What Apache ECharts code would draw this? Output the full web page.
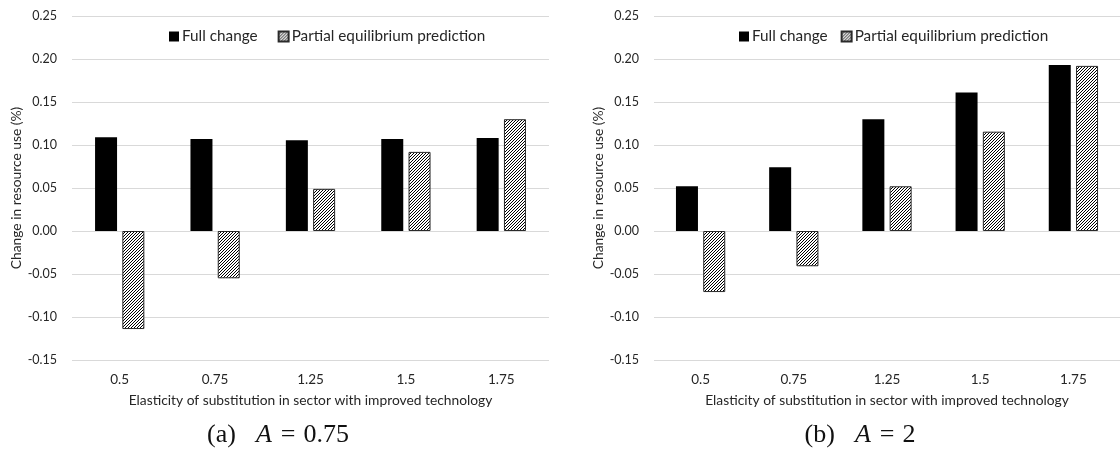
<!DOCTYPE html>
<html>
<head>
<meta charset="utf-8">
<script src="https://cdn.jsdelivr.net/npm/echarts@6/dist/echarts.min.js"></script>
<style>
  html, body { margin: 0; padding: 0; background: #fff; }
  #chart { width: 1120px; height: 449px; }
</style>
</head>
<body>
<div id="chart"></div>
<script>
// Elasticity categories shared by both panels
const categories = ['0.5', '0.75', '1.25', '1.5', '1.75'];

// Panel (a): A = 0.75
const fullChangeA = [0.109, 0.107, 0.1055, 0.107, 0.108];
const partialA = [-0.114, -0.055, 0.049, 0.092, 0.130];

// Panel (b): A = 2
const fullChangeB = [0.052, 0.074, 0.130, 0.161, 0.193];
const partialB = [-0.071, -0.041, 0.052, 0.1155, 0.192];

// Value axis range and step
const yMin = -0.15;
const yMax = 0.25;
const yStep = 0.05;

const seriesNames = ['Full change', 'Partial equilibrium prediction'];
const xAxisTitle = 'Elasticity of substitution in sector with improved technology';
const yAxisTitle = 'Change in resource use (%)';
const captionA = { tag: '(a)', value: '0.75' };
const captionB = { tag: '(b)', value: '2' };

const SANS = 'Lato, "Open Sans", sans-serif';
const SERIF = '"Liberation Serif", "DejaVu Serif", serif';
const TEXT = '#262626';
const GRID_LINE = '#d9d9d9';

// Small repeating tile of "/" diagonal strokes used to fill the second series
function hatchTile() {
  const c = document.createElement('canvas');
  c.width = 3; c.height = 3;
  const g = c.getContext('2d');
  g.fillStyle = '#ffffff';
  g.fillRect(0, 0, 3, 3);
  g.fillStyle = '#000000';
  for (let y = 0; y < 3; y++) g.fillRect(2 - y, y, 1, 1);
  return c;
}
const hatch = { image: hatchTile(), repeat: 'repeat' };

const panels = [
  { left: 72, width: 477, full: fullChangeA, partial: partialA, legendLeft: 164, legendGap: 20 },
  { left: 654, width: 477, full: fullChangeB, partial: partialB, legendLeft: 734, legendGap: 13 }
];

const grids = [], xAxes = [], yAxes = [], series = [], legends = [];
panels.forEach((p, i) => {
  grids.push({ left: p.left, width: p.width, top: 16, height: 344 });
  xAxes.push({
    type: 'category', gridIndex: i, data: categories,
    axisLine: { show: false, onZero: false }, axisTick: { show: false },
    axisLabel: { color: TEXT, fontFamily: SANS, fontSize: 13.5, margin: 13 },
    name: xAxisTitle, nameLocation: 'middle', nameGap: 34,
    nameTextStyle: { color: TEXT, fontFamily: SANS, fontSize: 13.8 }
  });
  yAxes.push({
    type: 'value', gridIndex: i, min: yMin, max: yMax, interval: yStep,
    axisLine: { show: false }, axisTick: { show: false },
    splitLine: { lineStyle: { color: GRID_LINE, width: 1 } },
    axisLabel: { color: TEXT, fontFamily: SANS, fontSize: 12.5, margin: 15,
      formatter: v => v.toFixed(2) },
    name: yAxisTitle, nameLocation: 'middle', nameGap: 48,
    nameTextStyle: { color: TEXT, fontFamily: SANS, fontSize: 13.8 }
  });
  series.push({
    name: seriesNames[0], type: 'bar', xAxisIndex: i, yAxisIndex: i,
    data: p.full, barWidth: 22, barGap: '24%',
    itemStyle: { color: '#000000' }
  });
  series.push({
    name: seriesNames[1], type: 'bar', xAxisIndex: i, yAxisIndex: i,
    data: p.partial, barWidth: 22, barGap: '24%',
    itemStyle: { color: hatch, borderColor: '#2a2a2a', borderWidth: 1 }
  });
  legends.push({
    left: p.legendLeft, top: 24, itemWidth: 10, itemHeight: 10, itemGap: p.legendGap,
    icon: 'rect', selectedMode: false,
    data: seriesNames,
    textStyle: { color: TEXT, fontFamily: SANS, fontSize: 15.3, padding: [0, 0, 0, -2] }
  });
});

// Sub-figure caption: upright tag, italic A, then "= value"
function caption(x, c) {
  const base = { fontFamily: SERIF, fontSize: 26, fill: '#111' };
  return {
    type: 'text', x: x, y: 435,
    style: {
      text: '{n|' + c.tag + '}{sp|}{i|A}{eq|=}{n|' + c.value + '}',
      align: 'center', verticalAlign: 'middle',
      font: '26px ' + SERIF, fill: '#111',
      rich: {
        n: base,
        sp: Object.assign({}, base, { width: 20 }),
        i: Object.assign({}, base, { fontStyle: 'italic' }),
        eq: Object.assign({}, base, { padding: [0, 8, 0, 9] })
      }
    }
  };
}

const chart = echarts.init(document.getElementById('chart'), null, { renderer: 'canvas' });
chart.setOption({
  animation: false,
  backgroundColor: '#ffffff',
  grid: grids,
  xAxis: xAxes,
  yAxis: yAxes,
  legend: legends,
  series: series,
  graphic: [caption(278, captionA), caption(860, captionB)]
});
</script>
</body>
</html>
